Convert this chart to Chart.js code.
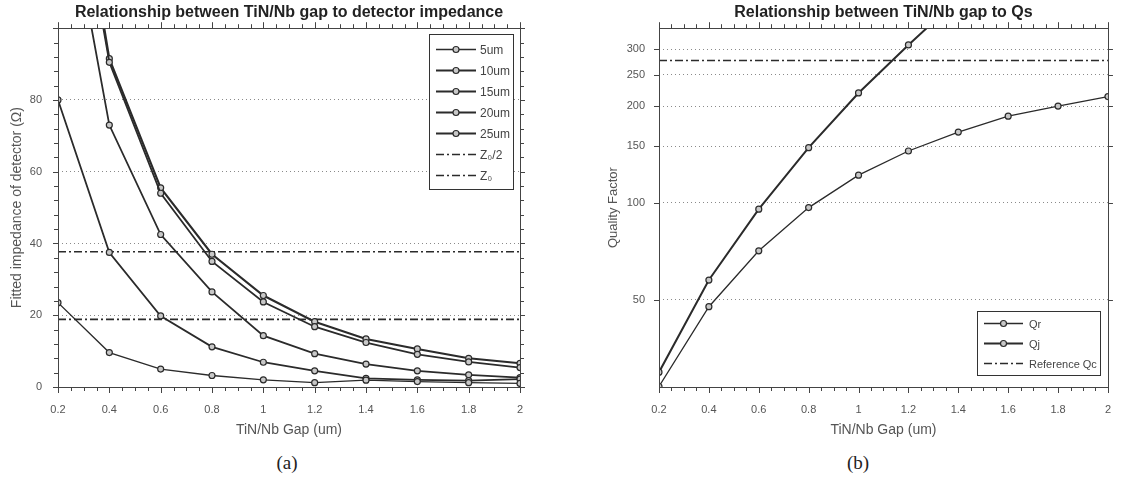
<!DOCTYPE html>
<html>
<head>
<meta charset="utf-8">
<script src="https://cdn.jsdelivr.net/npm/chart.js@4.4.1/dist/chart.umd.min.js"></script>
<style>
  body { margin: 0; background: #fff; width: 1127px; height: 483px; position: relative; overflow: hidden; }
  #wa { position: absolute; left: 0; top: 0; width: 560px; height: 447px; }
  #wb { position: absolute; left: 560px; top: 0; width: 567px; height: 447px; }
  .cap { position: absolute; top: 452px; font-family: 'Liberation Serif', 'DejaVu Serif', serif; font-size: 19px; color: #222; transform: translateX(-50%); }
</style>
</head>
<body>
<div id="wa"><canvas id="impChart"></canvas></div>
<div id="wb"><canvas id="qChart"></canvas></div>
<div class="cap" style="left:287px">(a)</div>
<div class="cap" style="left:858px">(b)</div>
<script>
// ── data ──
const gapUm   = [0.2, 0.4, 0.6, 0.8, 1.0, 1.2, 1.4, 1.6, 1.8, 2.0];
const imp5um  = [23.5, 9.6, 5.0, 3.2, 2.0, 1.2, 1.9, 1.5, 1.2, 1.0];
const imp10um = [80, 37.5, 19.8, 11.2, 6.9, 4.5, 2.4, 2.0, 1.8, 2.2];
const imp15um = [151, 73, 42.5, 26.5, 14.3, 9.3, 6.4, 4.5, 3.4, 2.6];
const imp20um = [172, 90.5, 54, 35, 23.7, 16.8, 12.4, 9.1, 7.0, 5.4];
const imp25um = [178, 91.5, 55.5, 37, 25.5, 18.2, 13.4, 10.6, 8.0, 6.6];
const z0 = 37.7;
const qr = [26.9, 47.6, 71, 96.7, 122, 145, 166, 186, 200, 214];
const qj = [29.8, 57.6, 95.6, 148.5, 219.6, 309.6, 430, 530, 620, 700];
const qcRef = 277;
const impTicks = [0, 20, 40, 60, 80, 100];
const qTicks = [50, 100, 150, 200, 250, 300];

Chart.defaults.font.family = "'Liberation Sans', Arial, sans-serif";
Chart.defaults.animation = false;

const ink = '#2b2b2b';
const pts = arr => arr.map((v, i) => ({ x: gapUm[i], y: v }));
const flat = v => [{ x: gapUm[0], y: v }, { x: gapUm[gapUm.length - 1], y: v }];
const curve = (label, arr, w) => ({ label, data: pts(arr), borderColor: ink, borderWidth: w, tension: 0,
  pointRadius: 3, pointBackgroundColor: '#c8c8c8', pointBorderColor: ink, pointBorderWidth: 1.2 });
const refLine = (label, v) => ({ label, data: flat(v), borderColor: ink, borderWidth: 1.6, borderDash: [8, 3, 2, 3], pointRadius: 0 });

// frame round the plot with outward tick marks on all four sides
const frameTicks = {
  id: 'frameTicks',
  afterDatasetsDraw(chart, args, o) {
    const { ctx, chartArea: a, scales: { x, y } } = chart;
    ctx.save();
    ctx.strokeStyle = '#444'; ctx.lineWidth = 1;
    ctx.strokeRect(Math.round(a.left) + 0.5, Math.round(a.top) + 0.5, Math.round(a.width), Math.round(a.height));
    ctx.beginPath();
    for (let v = x.min; v <= x.max + 1e-9; v += o.xMinor) {
      const px = Math.round(x.getPixelForValue(v)) + 0.5;
      const major = Math.abs(v / o.xMajor - Math.round(v / o.xMajor)) < 1e-6;
      const len = major ? 6 : 4;
      ctx.moveTo(px, a.bottom); ctx.lineTo(px, a.bottom + len);
      ctx.moveTo(px, a.top); ctx.lineTo(px, a.top - len);
    }
    const yv = [];
    if (o.yMinor) { for (let v = y.min; v <= y.max + 1e-9; v += o.yMinor) yv.push(v); }
    else y.ticks.forEach(t => yv.push(t.value));
    yv.forEach(v => {
      const py = Math.round(y.getPixelForValue(v)) + 0.5;
      const major = o.yMinor ? Math.abs(v % o.yMajor) < 1e-6 : true;
      const len = major ? 5 : 4;
      ctx.moveTo(a.left, py); ctx.lineTo(a.left - len, py);
      ctx.moveTo(a.right, py); ctx.lineTo(a.right + len, py);
    });
    ctx.stroke();
    ctx.restore();
  }
};

// boxed legend inside the plot area
const boxLegend = {
  id: 'boxLegend',
  afterDraw(chart, args, o) {
    const { ctx, chartArea: a } = chart;
    const sets = chart.data.datasets;
    const h = o.rowH * sets.length + o.pad * 2;
    const left = Math.round(a.right - o.inset - o.width);
    const top = Math.round(o.corner === 'top' ? a.top + o.insetV : a.bottom - o.insetV - h);
    ctx.save();
    ctx.fillStyle = '#fff'; ctx.fillRect(left, top, o.width, h);
    ctx.strokeStyle = '#333'; ctx.lineWidth = 1; ctx.strokeRect(left + 0.5, top + 0.5, o.width, h);
    sets.forEach((ds, i) => {
      const cy = Math.round(top + o.pad + o.rowH * (i + 0.5)) + 0.5;
      ctx.strokeStyle = ds.borderColor; ctx.lineWidth = ds.borderWidth;
      ctx.setLineDash(ds.borderDash || []);
      ctx.beginPath(); ctx.moveTo(left + o.lineX, cy); ctx.lineTo(left + o.lineX + o.lineLen, cy); ctx.stroke();
      ctx.setLineDash([]);
      if (ds.pointRadius) {
        ctx.beginPath(); ctx.arc(left + o.lineX + o.lineLen / 2, cy, ds.pointRadius, 0, Math.PI * 2);
        ctx.fillStyle = ds.pointBackgroundColor; ctx.fill();
        ctx.lineWidth = ds.pointBorderWidth; ctx.strokeStyle = ds.pointBorderColor; ctx.stroke();
      }
      ctx.fillStyle = '#444'; ctx.font = o.font; ctx.textBaseline = 'middle';
      ctx.fillText(ds.label, left + o.textX, cy + 1);
    });
    ctx.restore();
  }
};

const tickFont = { size: 11 };
const gridDots = { color: ctx => (ctx.tick && (ctx.tick.value === 0 || ctx.tick.value === 100)) ? 'rgba(0,0,0,0)' : '#8a8a8a', lineWidth: 1, drawTicks: false };
const xAxis = {
  type: 'linear', min: 0.2, max: 2,
  afterBuildTicks: s => { s.ticks = gapUm.map(v => ({ value: v })); },
  afterFit: s => { s.height = 56; },
  ticks: { callback: v => String(+v.toFixed(1)), font: tickFont, color: '#555', padding: 16, maxRotation: 0, autoSkip: false },
  grid: { display: false, drawTicks: false },
  border: { display: false },
  title: { display: true, text: 'TiN/Nb Gap (um)', color: '#555', font: { size: 14 }, padding: { top: 6, bottom: 4 } }
};

new Chart(document.getElementById('impChart'), {
  type: 'line',
  data: {
    datasets: [
      curve('5um', imp5um, 1.3),
      curve('10um', imp10um, 1.8),
      curve('15um', imp15um, 1.8),
      curve('20um', imp20um, 1.8),
      curve('25um', imp25um, 2.1),
      refLine('Z\u2080/2', z0 / 2),
      refLine('Z\u2080', z0)
    ]
  },
  options: {
    responsive: true, maintainAspectRatio: false,
    layout: { padding: { left: 0, right: 40, top: 0, bottom: 4 } },
    plugins: {
      legend: { display: false }, tooltip: { enabled: false },
      title: { display: true, fullSize: false, text: 'Relationship between TiN/Nb gap to detector impedance', color: '#222', font: { size: 16, weight: 'bold' }, padding: { top: 3, bottom: 6 } },
      frameTicks: { xMinor: 0.05, xMajor: 0.2, yMinor: 4, yMajor: 20 },
      boxLegend: { corner: 'top', width: 84, rowH: 21, pad: 4, inset: 7, insetV: 6, lineX: 7, lineLen: 40, textX: 51, font: "12px 'Liberation Sans Narrow', 'Liberation Sans', sans-serif" }
    },
    scales: {
      x: xAxis,
      y: {
        type: 'linear', min: 0, max: 100,
        afterBuildTicks: s => { s.ticks = impTicks.map(v => ({ value: v })); },
        afterFit: s => { s.width = 58; },
        ticks: { callback: v => v === 100 ? '' : v, font: tickFont, color: '#555', padding: 16 },
        grid: gridDots,
        border: { display: false, dash: [1, 3] },
        title: { display: true, text: 'Fitted impedance of detector (\u03A9)', color: '#555', font: { size: 14 }, padding: { top: 9, bottom: 0 } }
      }
    }
  },
  plugins: [frameTicks, boxLegend]
});

new Chart(document.getElementById('qChart'), {
  type: 'line',
  data: {
    datasets: [
      curve('Qr', qr, 1.3),
      curve('Qj', qj, 2),
      refLine('Reference Qc', qcRef)
    ]
  },
  options: {
    responsive: true, maintainAspectRatio: false,
    layout: { padding: { left: 0, right: 7, top: 0, bottom: 4 } },
    plugins: {
      legend: { display: false }, tooltip: { enabled: false },
      title: { display: true, fullSize: false, text: 'Relationship between TiN/Nb gap to Qs', color: '#222', font: { size: 16, weight: 'bold' }, padding: { top: 3, bottom: 6 } },
      frameTicks: { xMinor: 0.05, xMajor: 0.2 },
      boxLegend: { corner: 'bottom', width: 123, rowH: 20, pad: 2, inset: 8, insetV: 12, lineX: 7, lineLen: 39, textX: 52, font: "11px 'Liberation Sans Narrow', 'Liberation Sans', sans-serif" }
    },
    scales: {
      x: xAxis,
      y: {
        type: 'logarithmic', min: 26.8, max: 349,
        afterBuildTicks: s => { s.ticks = qTicks.map(v => ({ value: v })); },
        afterFit: s => { s.width = 99; },
        ticks: { callback: v => String(v), font: tickFont, color: '#555', padding: 14 },
        grid: { color: '#8a8a8a', lineWidth: 1, drawTicks: false },
        border: { display: false, dash: [1, 3] },
        title: { display: true, text: 'Quality Factor', color: '#555', font: { size: 13 }, padding: { top: 46, bottom: 0 } }
      }
    }
  },
  plugins: [frameTicks, boxLegend]
});
</script>
</body>
</html>
